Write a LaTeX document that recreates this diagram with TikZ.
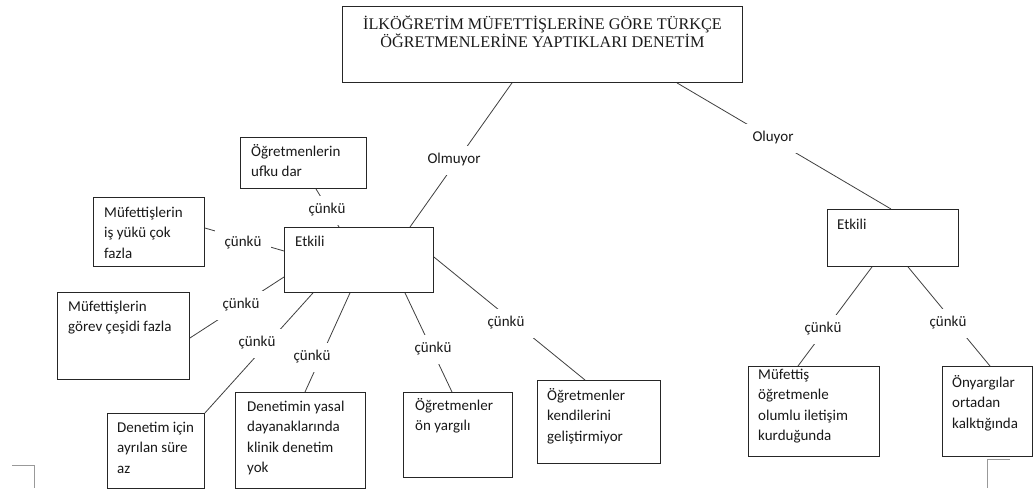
\documentclass[tikz,border=0pt]{standalone}
\usepackage{fontspec}
\setmainfont{Carlito}
\newfontfamily\serifttl{Liberation Serif}
% fixed height for the first line of every box text
\newcommand\firststrut{\rule{0pt}{13pt}}
\newcommand\titlestrut{\rule{0pt}{14.5pt}}
\begin{document}
\begin{tikzpicture}[x=1pt,y=-1pt,
  box/.style={draw=black!85, line width=0.9pt, inner sep=0pt, anchor=north west},
  txt/.style={anchor=north west, inner sep=0pt, align=left,
    font=\fontsize{15}{20.5}\selectfont, text=black!90},
  lab/.style={fill=white, inner xsep=10pt, inner ysep=8pt, text height=10pt,
    text depth=3pt, font=\fontsize{15}{18}\selectfont, text=black!90},
  conn/.style={draw=black!75, line width=0.8pt},
  cropmark/.style={draw=black!40, line width=0.8pt}]
\fill[white] (0,0) rectangle (1033,491);
\useasboundingbox (0,0) rectangle (1033,491);

% boxes
\node[box, minimum width=400pt, minimum height=76pt] (top) at (342,6) {};
\node[box, minimum width=149pt, minimum height=65pt] (etkL) at (284,227) {};
\node[box, minimum width=126pt, minimum height=51pt] (ufku) at (240,137) {};
\node[box, minimum width=111pt, minimum height=69pt] (is) at (93,197) {};
\node[box, minimum width=132pt, minimum height=87pt] (gorev) at (57,292) {};
\node[box, minimum width=97pt, minimum height=75pt] (icin) at (107,413) {};
\node[box, minimum width=130pt, minimum height=96pt] (yasal) at (235,392) {};
\node[box, minimum width=109pt, minimum height=85pt] (onyar) at (403,392) {};
\node[box, minimum width=123pt, minimum height=83pt] (kendi) at (537,380) {};
\node[box, minimum width=131pt, minimum height=57pt] (etkR) at (827,209) {};
\node[box, minimum width=131pt, minimum height=90pt] (mufet) at (748,366) {};
\node[box, minimum width=90pt, minimum height=90pt] (onyarg) at (942,366) {};

% box texts
\node[anchor=north, inner sep=0pt, align=center, text=black!90,
  font=\serifttl\fontsize{16.2}{18}\selectfont] (ttl)
  at ([shift={(0,8.5)}]top.north)
  {\titlestrut İLKÖĞRETİM MÜFETTİŞLERİNE GÖRE TÜRKÇE\\ÖĞRETMENLERİNE YAPTIKLARI DENETİM};
\node[txt] (tEtkL) at ([shift={(11,6)}]etkL.north west) {\firststrut Etkili};
\node[txt] (tUfku) at ([shift={(11,6)}]ufku.north west) {\firststrut Öğretmenlerin\\ufku dar};
\node[txt] (tIs) at ([shift={(11,7)}]is.north west) {\firststrut Müfettişlerin\\iş yükü çok\\fazla};
\node[txt] (tGorev) at ([shift={(11,6)}]gorev.north west) {\firststrut Müfettişlerin\\görev çeşidi fazla};
\node[txt] (tIcin) at ([shift={(10,6)}]icin.north west) {\firststrut Denetim için\\ayrılan süre\\az};
\node[txt] (tYasal) at ([shift={(12,6)}]yasal.north west) {\firststrut Denetimin yasal\\dayanaklarında\\klinik denetim\\yok};
\node[txt] (tOnyar) at ([shift={(12,5)}]onyar.north west) {\firststrut Öğretmenler\\ön yargılı};
\node[txt] (tKendi) at ([shift={(10,7)}]kendi.north west) {\firststrut Öğretmenler\\kendilerini\\geliştirmiyor};
\node[txt] (tEtkR) at ([shift={(10,7)}]etkR.north west) {\firststrut Etkili};
\node[txt] (tMufet) at ([shift={(10,0)}]mufet.north west) {\firststrut Müfettiş\\öğretmenle\\olumlu iletişim\\kurduğunda};
\node[txt] (tOnyarg) at ([shift={(10,8)}]onyarg.north west) {\firststrut Önyargılar\\ortadan\\kalktığında};

% connectors
\draw[conn] ([shift={(170,0)}]top.south west) -- ([shift={(126,0)}]etkL.north west);
\draw[conn] ([shift={(335,0)}]top.south west) -- ([shift={(64,0)}]etkR.north west);
\draw[conn] ([shift={(76,0)}]ufku.south west) -- ([shift={(55,0)}]etkL.north west);
\draw[conn] ([shift={(0,31)}]is.north east) -- ([shift={(0,24)}]etkL.north west);
\draw[conn] ([shift={(0,46)}]gorev.north east) -- ([shift={(0,50)}]etkL.north west);
\draw[conn] (icin.north east) -- ([shift={(29,0)}]etkL.south west);
\draw[conn] ([shift={(70,0)}]yasal.north west) -- ([shift={(66,0)}]etkL.south west);
\draw[conn] ([shift={(49,0)}]onyar.north west) -- ([shift={(121,0)}]etkL.south west);
\draw[conn] ([shift={(48,0)}]kendi.north west) -- ([shift={(0,30)}]etkL.north east);
\draw[conn] ([shift={(45,0)}]etkR.south west) -- ([shift={(50,0)}]mufet.north west);
\draw[conn] ([shift={(81,0)}]etkR.south west) -- ([shift={(48,0)}]onyarg.north west);

% connector labels
\node[lab] (olm) at (454,160) {Olmuyor};
\node[lab] (olu) at (773,138) {Oluyor};
\node[lab] (c1) at (327,210) {çünkü};
\node[lab] (c2) at (243,243) {çünkü};
\node[lab] (c3) at (241,305) {çünkü};
\node[lab] (c4) at (257,343) {çünkü};
\node[lab] (c5) at (312,357) {çünkü};
\node[lab] (c6) at (433,349) {çünkü};
\node[lab] (c7) at (506,323) {çünkü};
\node[lab] (c8) at (823,329) {çünkü};
\node[lab] (c9) at (948,323) {çünkü};

% page corner marks
\draw[cropmark] (12,465) -- (34,465) -- (34,488);
\draw[cropmark] (1010,459) -- (987,459) -- (987,488);
\end{tikzpicture}
\end{document}
